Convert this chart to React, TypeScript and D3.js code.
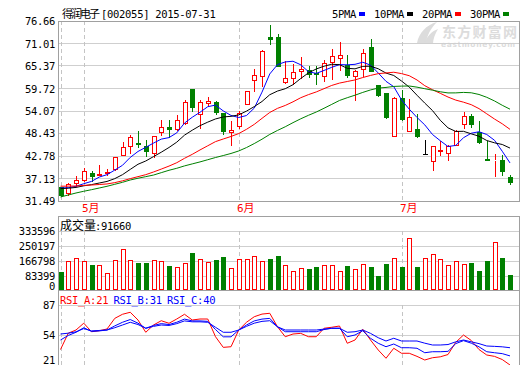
import React from 'react'
import * as d3 from 'd3'

// 得润电子 daily K-line, 2015-04-28 .. 2015-07-31
const stockName = '得润电子'
const stockInfo = '[002055] 2015-07-31'

const openP = [34.93, 33.50, 36.01, 36.84, 38.52, 38.09, 38.44, 39.60, 43.11, 45.22,
  45.92, 45.37, 43.54, 48.73, 50.06, 49.56, 51.06, 59.60, 53.32, 56.08,
  56.26, 53.57, 48.88, 50.24, 55.83, 61.78, 62.93, 72.65, 72.65, 61.28,
  62.28, 64.04, 64.44, 63.61, 62.78, 66.30, 67.37, 65.69, 62.78, 64.69,
  70.14, 60.52, 58.59, 47.73, 57.34, 49.13, 49.56, 43.28, 41.60, 43.96,
  43.54, 45.62, 50.89, 52.90, 48.73, 41.95, 41.70, 41.70, 37.44]
const highP = [35.05, 36.01, 37.76, 39.77, 39.09, 40.60, 39.52, 42.46, 46.30, 48.13,
  48.98, 46.87, 47.73, 51.74, 51.74, 53.15, 56.91, 59.60, 56.76, 57.51,
  56.51, 53.57, 51.49, 54.00, 59.10, 64.61, 69.46, 75.58, 73.47, 66.55,
  65.79, 67.55, 65.44, 65.29, 66.95, 69.63, 71.39, 68.05, 64.29, 69.63,
  72.22, 60.68, 58.59, 57.51, 59.42, 57.09, 53.32, 46.87, 45.37, 46.62,
  45.62, 49.30, 53.75, 53.25, 51.49, 46.47, 43.28, 43.11, 38.09]
const lowP = [32.75, 33.07, 35.18, 36.51, 36.59, 38.09, 37.94, 39.35, 42.96, 43.54,
  44.97, 42.71, 42.46, 47.98, 47.48, 49.38, 50.81, 54.00, 49.81, 55.50,
  53.40, 48.38, 45.47, 49.81, 55.75, 59.02, 60.27, 70.96, 65.44, 61.10,
  60.93, 62.36, 62.61, 60.93, 61.53, 62.11, 64.29, 62.61, 56.76, 62.78,
  64.04, 57.91, 52.32, 47.73, 51.89, 48.98, 47.55, 43.28, 39.35, 43.11,
  41.85, 45.50, 49.81, 50.00, 46.05, 41.78, 37.84, 38.09, 35.76]
const closeP = [32.92, 35.76, 36.76, 38.94, 37.69, 38.34, 38.77, 42.46, 44.97, 47.63,
  45.79, 43.96, 47.73, 49.98, 49.56, 51.74, 56.26, 55.00, 56.26, 56.51,
  53.75, 48.98, 49.31, 53.65, 59.02, 63.03, 69.06, 72.07, 65.44, 62.36,
  63.86, 64.61, 63.36, 63.36, 66.05, 67.80, 68.05, 63.03, 64.04, 68.63,
  64.19, 58.17, 52.57, 57.34, 52.14, 52.49, 47.73, 43.28, 45.22, 44.36,
  45.22, 49.13, 52.90, 50.89, 46.22, 41.78, 41.85, 39.10, 36.26]
const volume = [107300, 166800, 181800, 166800, 144600, 144600, 98400, 172400, 231900, 172400,
  154000, 154000, 172400, 166800, 139000, 135100, 154000, 212900, 176200, 161200,
  172400, 187400, 127900, 176200, 176200, 194600, 166800, 177900, 194600, 144600,
  111200, 126200, 122300, 133400, 144600, 144600, 111200, 139000, 122300, 150100,
  133400, 83400, 150100, 183500, 133400, 293000, 133400, 181800, 204100, 176200,
  142900, 166800, 150100, 155700, 111200, 166800, 272400, 183500, 91660]

const ma5 = [34.75, 34.83, 35.18, 35.83, 36.41, 37.50, 38.10, 39.24, 40.45, 42.43,
  43.92, 44.96, 46.02, 47.02, 47.40, 48.59, 51.05, 52.51, 53.76, 55.15,
  55.56, 54.10, 52.96, 52.44, 52.94, 54.80, 58.81, 63.37, 65.72, 66.39,
  66.56, 65.67, 63.93, 63.51, 64.25, 65.04, 65.72, 65.66, 65.79, 66.31,
  65.59, 63.61, 61.52, 60.18, 56.88, 54.54, 52.45, 50.60, 48.17, 46.62,
  45.16, 45.44, 47.37, 48.50, 48.87, 48.18, 46.73, 43.97, 41.04]
const ma10 = [34.6, 34.7, 34.9, 35.3, 35.6, 36.0, 36.4, 37.1, 38.1, 39.42,
  40.71, 41.53, 42.63, 43.73, 44.92, 46.26, 48.01, 49.26, 50.39, 51.28,
  52.08, 52.58, 52.74, 53.10, 54.05, 55.18, 56.46, 58.16, 59.08, 59.67,
  60.68, 62.24, 63.65, 64.62, 65.32, 65.80, 65.70, 64.79, 64.65, 65.28,
  65.31, 64.67, 63.59, 62.99, 61.60, 60.07, 58.03, 56.06, 54.18, 51.75,
  49.85, 48.95, 48.98, 48.34, 47.74, 46.67, 46.09, 45.67, 44.77]
const ma20 = [35.2, 35.22, 35.25, 35.4, 35.5, 35.63, 35.77, 36.1, 36.55, 37.1,
  37.6, 38.1, 38.77, 39.5, 40.25, 41.1, 42.2, 43.2, 44.3, 45.35,
  46.39, 47.05, 47.68, 48.42, 49.48, 50.72, 52.23, 53.71, 54.74, 55.47,
  56.38, 57.41, 58.19, 58.86, 59.68, 60.49, 61.08, 61.48, 61.87, 62.47,
  63.00, 63.45, 63.62, 63.80, 63.46, 62.93, 61.86, 60.43, 59.41, 58.51,
  57.58, 56.81, 56.29, 55.66, 54.67, 53.37, 52.06, 50.86, 49.47]
const ma30 = [32.49, 33.0, 33.5, 33.93, 34.33, 34.75, 35.18, 35.68, 36.18, 36.76,
  37.2, 37.6, 38.0, 38.6, 39.2, 39.7, 40.3, 40.8, 41.3, 41.85,
  42.4, 42.9, 43.42, 44.05, 44.9, 45.9, 47.0, 48.2, 49.2, 50.12,
  51.15, 52.12, 53.00, 53.82, 54.76, 55.74, 56.72, 57.41, 58.04, 58.74,
  59.36, 59.83, 59.99, 60.24, 60.32, 60.35, 60.06, 59.67, 59.30, 58.90,
  58.61, 58.62, 58.74, 58.65, 58.22, 57.51, 56.60, 55.51, 54.53]

const rsiA = [38, 56, 59.5, 67, 57.6, 58.7, 60.6, 72.3, 76.8, 79,
  70.5, 57, 65, 69.7, 66.9, 71.6, 76.8, 70.5, 71.6, 71.6,
  52.1, 40.4, 41.1, 59.5, 68, 74.1, 77, 77.9, 63, 52.1,
  55.1, 55.8, 52.1, 52.1, 61.4, 62.5, 63.9, 44.9, 48.5, 60.3,
  48.5, 37.5, 28.4, 39.4, 33.9, 33.9, 30.5, 26.5, 29, 30,
  32.5, 46, 54, 48, 38, 32, 30.5, 27, 21]
const rsiB = [48.5, 53.5, 57, 62, 58, 58.5, 59.5, 64, 68, 71,
  67, 61.4, 64.5, 66.5, 65.5, 68, 71.5, 69.5, 69.5, 69,
  60, 52, 52, 59.5, 65, 69.5, 71.5, 72.3, 63, 57.6,
  57.6, 57.6, 57.6, 57.6, 60, 61.4, 61.4, 52.1, 54, 58.7,
  50.4, 44.9, 41.1, 44.1, 40, 40, 39.4, 34.5, 35.6, 35.6,
  36, 44.5, 47.8, 45, 41, 35.6, 34.5, 33.5, 31]
const rsiC = [55.1, 56, 57.5, 61, 58.5, 59, 59.5, 62, 65, 68,
  65.5, 61.4, 63.5, 65, 64.5, 66.5, 69.5, 68.5, 68.5, 68,
  62.5, 57, 57, 59.5, 63.5, 67, 69, 69.7, 63, 59.5,
  59.5, 59.5, 59.5, 59.5, 60.5, 61.4, 61.4, 57, 57.6, 59.5,
  55.8, 51, 47.4, 50.4, 47.4, 47.4, 47.4, 45, 43, 43,
  43.5, 46.5, 48.5, 46.5, 44.5, 41.9, 41.5, 41, 40]

const priceTicks = [31.49, 37.13, 42.78, 48.43, 54.07, 59.72, 65.37, 71.01, 76.66]
const volTicks = [0, 83399, 166798, 250197, 333596]
const rsiTicks = [21, 54, 87]
const monthIdx = [3, 23, 44]
const monthLabels = ['5月', '6月', '7月']
const dashIdx = [0, 3, 23, 44]
const maNames = ['5PMA', '10PMA', '20PMA', '30PMA']
const rsiNames = ['RSI_A', 'RSI_B', 'RSI_C']
const rsiLast = [21, 31, 40]
const lastVolume = 91660

const RED = '#ff0000'
const GREEN = '#008000'
const BLUE = '#0000ff'
const maColors = [BLUE, '#000000', RED, GREEN]
const rsiColors = [RED, BLUE, BLUE]
const GRID = '#cfcfcf'
const BORDER = '#a0a0a0'
const MONO = '"DejaVu Sans Mono", "Liberation Mono", monospace'
const CJK = '"Noto Sans CJK SC", sans-serif'

const L = 58.5, R = 519.5
const P_TOP = 21, P_BOT = 201
const V_TOP = 216.5, V_GRID = 231, V_BOT = 291
const R_TOP = 291, R_GRID = 305, R_BOT = 365

export default function App() {
  const n = closeP.length
  const x = d3.scaleLinear().domain([0, n - 1]).range([60.5, 510])
  const yP = d3.scaleLinear().domain([priceTicks[0], priceTicks[priceTicks.length - 1]]).range([P_BOT, P_TOP])
  const yV = d3.scaleLinear().domain([0, volTicks[volTicks.length - 1]]).range([V_BOT, V_GRID])
  const yR = d3.scaleLinear().domain([rsiTicks[0], rsiTicks[rsiTicks.length - 1]]).range([R_BOT, R_GRID])

  const maLine = d3.line<number>().x((_, i) => x(i)).y(d => yP(d))
  const rsiLine = d3.line<number>().x((_, i) => x(i)).y(d => yR(d))
  const col = (i: number) => Math.round(x(i))

  const txt = { fontFamily: MONO, fontSize: 10.5, letterSpacing: -0.3 } as React.CSSProperties

  const dashes = (y1: number, y2: number) => dashIdx.map(i => (
    <line key={'d' + i + y1} x1={col(i) + 0.5} x2={col(i) + 0.5} y1={y1} y2={y2}
      stroke="#c4c4c4" strokeDasharray="4,3" />
  ))

  return (
    <svg width={520} height={365} style={{ position: 'absolute', left: 0, top: 0, display: 'block' }}>
      <rect x={0} y={0} width={520} height={365} fill="#fff" />

      {/* watermark */}
      <g fill="#dcdcdc">
        <path d="M417,43 C419,33 426,25 437,22 C431,28 427,35 426,43 Z" />
        <path d="M424,44 C427,36 432,31 438,29 C435,34 433,39 433,44 Z" />
        <text x={442} y={36.5} fontFamily={CJK} fontWeight={700} fontSize={14} textLength={75}>东方财富网</text>
        <text x={441} y={47} fontFamily='"DejaVu Sans", sans-serif' fontWeight={700} fontSize={7.5} textLength={74}>eastmoney.com</text>
      </g>

      {/* title and legend */}
      <text x={62} y={18} fontFamily={CJK} fontSize={11} textLength={38}>{stockName}</text>
      <text x={101} y={18} style={txt}>{stockInfo}</text>
      {maNames.map((m, k) => {
        const lx = [332, 374, 422, 470][k]
        return (
          <g key={m}>
            <text x={lx} y={18} style={txt}>{m}</text>
            <rect x={lx + m.length * 6 + 3} y={12} width={6} height={4} fill={maColors[k]} />
          </g>
        )
      })}

      {/* price panel grid */}
      {priceTicks.slice(1, -1).map(t => (
        <line key={'pg' + t} x1={L} x2={R} y1={Math.floor(yP(t)) + 0.5} y2={Math.floor(yP(t)) + 0.5} stroke={GRID} />
      ))}
      {dashes(P_TOP, P_BOT)}
      {priceTicks.map(t => (
        <text key={'pt' + t} x={55} y={yP(t) + 4} textAnchor="end" style={txt}>{t.toFixed(2)}</text>
      ))}

      {/* candles */}
      {closeP.map((c, i) => {
        const o = openP[i]
        const cx = col(i)
        const yH = Math.round(yP(highP[i]))
        const yL = Math.round(yP(lowP[i]))
        const yT = Math.round(yP(Math.max(o, c)))
        const yB = Math.round(yP(Math.min(o, c)))
        if (c > o) {
          return (
            <g key={'c' + i} stroke={RED} fill="#fff">
              {yH < yT && <line x1={cx + 0.5} x2={cx + 0.5} y1={yH} y2={yT} />}
              {yL > yB && <line x1={cx + 0.5} x2={cx + 0.5} y1={yB + 1} y2={yL + 1} />}
              <rect x={cx - 1.5} y={yT + 0.5} width={4} height={Math.max(yB - yT, 0)} />
            </g>
          )
        }
        if (c < o) {
          return (
            <g key={'c' + i}>
              <line x1={cx + 0.5} x2={cx + 0.5} y1={yH} y2={yL + 1} stroke={GREEN} />
              <rect x={cx - 2} y={yT} width={5} height={Math.max(yB - yT + 1, 1)} fill={GREEN} />
            </g>
          )
        }
        return (
          <g key={'c' + i} stroke="#000">
            <line x1={cx + 0.5} x2={cx + 0.5} y1={yH} y2={yL + 1} />
            <line x1={cx - 2} x2={cx + 3} y1={yT + 0.5} y2={yT + 0.5} />
          </g>
        )
      })}

      {/* moving averages */}
      {[ma5, ma10, ma20, ma30].map((s, k) => (
        <path key={'ma' + k} d={maLine(s) || ''} fill="none" stroke={maColors[k]} strokeWidth={1} />
      ))}

      <rect x={L} y={P_TOP + 0.5} width={R - L} height={P_BOT - P_TOP} fill="none" stroke={BORDER} />

      {/* month labels */}
      {monthIdx.map((i, k) => (
        <text key={'m' + k} x={col(i) - 2} y={212} fill={RED} fontFamily={`${MONO}, ${CJK}`} fontSize={11}>{monthLabels[k]}</text>
      ))}

      {/* volume panel */}
      {volTicks.slice(1).map(t => (
        <line key={'vg' + t} x1={L} x2={R} y1={Math.floor(yV(t)) + 0.5} y2={Math.floor(yV(t)) + 0.5} stroke={GRID} />
      ))}
      {dashes(V_GRID, V_BOT)}
      {volTicks.map(t => (
        <text key={'vt' + t} x={55} y={Math.min(yV(t) + 3.5, V_BOT - 1)} textAnchor="end" style={txt}>{t}</text>
      ))}
      {volume.map((v, i) => {
        const cx = col(i)
        const yv = Math.round(yV(v))
        return closeP[i] >= openP[i]
          ? <rect key={'v' + i} x={cx - 1.5} y={yv + 0.5} width={4} height={289 - yv} fill="#fff" stroke={RED} />
          : <rect key={'v' + i} x={cx - 2} y={yv} width={5} height={290 - yv} fill={GREEN} />
      })}
      <text x={60} y={229.5} fontFamily={CJK} fontSize={12}>成交量</text>
      <text x={95} y={229.5} style={txt}>:{lastVolume}</text>
      <rect x={L} y={V_TOP} width={R - L} height={V_BOT - 0.5 - V_TOP} fill="none" stroke={BORDER} />

      {/* RSI panel */}
      {rsiTicks.slice(1).map(t => (
        <line key={'rg' + t} x1={L} x2={R} y1={Math.floor(yR(t)) + 0.5} y2={Math.floor(yR(t)) + 0.5} stroke={GRID} />
      ))}
      {dashes(R_GRID, R_BOT)}
      {rsiTicks.map(t => (
        <text key={'rt' + t} x={55} y={Math.min(yR(t) + 4, R_BOT - 1.5)} textAnchor="end" style={txt}>{t}</text>
      ))}
      {[rsiA, rsiB, rsiC].map((s, k) => (
        <path key={'rsi' + k} d={rsiLine(s) || ''} fill="none" stroke={rsiColors[k]} strokeWidth={1} />
      ))}
      {rsiNames.map((r, k) => (
        <text key={r} x={60 + k * 53.5} y={303.5} fill={rsiColors[k]} style={txt}>{r}:{rsiLast[k]}</text>
      ))}
      <rect x={L} y={R_TOP - 0.5} width={R - L} height={R_BOT - R_TOP + 5} fill="none" stroke={BORDER} />
    </svg>
  )
}
